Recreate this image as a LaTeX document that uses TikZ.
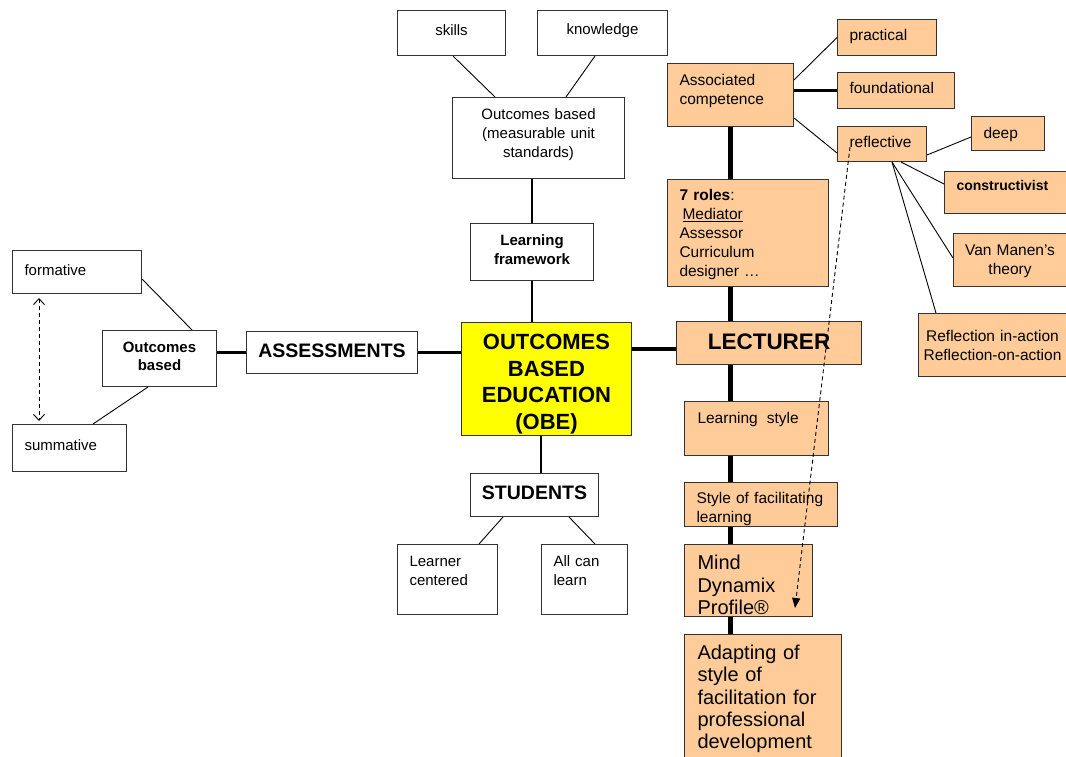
\documentclass[tikz,border=0pt]{standalone}
\usepackage{fontspec}
\setmainfont{Liberation Sans}
\usetikzlibrary{arrows.meta}
\definecolor{peachfill}{HTML}{FFCC99}
\definecolor{obeyellow}{HTML}{FFFF00}
\begin{document}
\begin{tikzpicture}[x=1pt, y=-1pt,
    box/.style={draw=black!80, line width=1pt, anchor=north west, inner xsep=0pt, inner ysep=0pt, align=center, font=\fontsize{15}{19}\selectfont},
    leftbox/.style={box, align=left, inner xsep=12pt},
    peach/.style={leftbox, fill=peachfill, font=\fontsize{15.5}{19}\selectfont},
    thin line/.style={line width=0.9pt},
    mid line/.style={line width=2.2pt},
    spine/.style={line width=4.5pt}]
    \useasboundingbox (0,0) rectangle (1066,756);

    % Centre and learning framework branch
    \node[box, fill=obeyellow, font=\bfseries\fontsize{22}{26.7}\selectfont, text width=170pt, text height=27pt, text depth=86pt] (obe) at (461,322) {OUTCOMES\\BASED\\EDUCATION\\(OBE)};
    \node[box, text width=108pt, text height=25pt, text depth=20pt] (skills) at (397,10) {skills};
    \node[box, text width=130pt, text height=24pt, text depth=21pt] (knowledge) at (537,10) {knowledge};
    \node[box, text width=172pt, text height=22pt, text depth=59pt] (unitstd) at (452,97) {Outcomes based\\(measurable unit\\standards)};
    \node[box, font=\bfseries\fontsize{15}{19}\selectfont, text width=123pt, text height=22pt, text depth=35pt] (framework) at (470,223) {Learning\\framework};

    % Assessment branch
    \node[box, font=\bfseries\fontsize{19.5}{23}\selectfont, text width=171pt, text height=26pt, text depth=16pt] (assess) at (246,331) {ASSESSMENTS};
    \node[box, font=\bfseries\fontsize{15}{18}\selectfont, text width=114pt, text height=22pt, text depth=34pt] (obassess) at (102,330) {Outcomes\\based};
    \node[leftbox, text width=105pt, text height=25pt, text depth=18pt] (formative) at (12,250) {formative};
    \node[leftbox, text width=90pt, text height=26pt, text depth=21pt] (summative) at (12,424) {summative};

    % Student branch
    \node[box, font=\bfseries\fontsize{19.5}{23}\selectfont, text width=128pt, text height=26pt, text depth=17pt] (students) at (470,473) {STUDENTS};
    \node[leftbox, text width=76pt, text height=22pt, text depth=48pt] (learner) at (397,544) {Learner\\centered};
    \node[leftbox, text width=62pt, text height=22pt, text depth=48pt] (allcan) at (541,544) {All can\\learn};

    % Lecturer branch
    \node[peach, text width=102pt, text height=22pt, text depth=41pt] (assoc) at (667,63) {Associated\\competence};
    \node[peach, text width=75pt, text height=21pt, text depth=15pt] (practical) at (837,19) {practical};
    \node[peach, text width=93pt, text height=21pt, text depth=15pt] (foundational) at (837,72) {foundational};
    \node[peach, text width=65pt, text height=21pt, text depth=14pt] (reflective) at (837,126) {reflective};
    \node[peach, text width=49pt, text height=22pt, text depth=12pt] (deep) at (971,116) {deep};
    \node[peach, font=\bfseries\fontsize{14}{17}\selectfont, text width=98pt, text height=19pt, text depth=23pt] (constructivist) at (944,171) {constructivist};
    \node[peach, align=center, inner xsep=0pt, text width=113pt, text height=22pt, text depth=31pt] (vanmanen) at (953,233) {Van Manen’s\\theory};
    \node[peach, align=center, inner xsep=0pt, text width=148pt, text height=28pt, text depth=35pt] (inaction) at (918,313) {Reflection~in-action\\Reflection-on-action};
    \node[peach, text width=137pt, text height=21pt, text depth=86pt] (roles) at (667,179) {\textbf{7 roles}:\\\hspace*{3pt}\underline{Mediator}\\Assessor\\Curriculum\\designer …};
    \node[peach, align=center, inner xsep=0pt, font=\bfseries\fontsize{22.5}{26}\selectfont, text width=185pt, text height=28pt, text depth=15pt] (lecturer) at (676,321) {LECTURER};
    \node[peach, inner xsep=13pt, text width=118pt, text height=22pt, text depth=32pt] (lstyle) at (684,401) {Learning\hspace{9pt}style};
    \node[peach, inner xsep=12pt, text width=129pt, text height=21pt, text depth=23pt] (facilitating) at (684,482) {Style~of~facilitating\\learning};
    \node[peach, inner xsep=13pt, font=\fontsize{20}{22.5}\selectfont, text width=102pt, text height=25pt, text depth=47pt] (mind) at (684,544) {Mind\\Dynamix\\Profile®};
    \node[peach, inner xsep=13pt, font=\fontsize{20}{22.3}\selectfont, text width=131pt, text height=25pt, text depth=101pt] (adapting) at (684,634) {Adapting of\\style of\\facilitation for\\professional\\development};

    % Connect nodes
    \draw[thin line] ([xshift=56pt]skills.south west) -- ([xshift=43pt]unitstd.north west);
    \draw[thin line] ([xshift=58pt]knowledge.south west) -- ([xshift=114pt]unitstd.north west);
    \draw[mid line] (framework.north) -- (framework.north |- unitstd.south);
    \draw[mid line] (framework.south) -- (framework.south |- obe.north);
    \draw[mid line] ([xshift=80pt]obe.south west) -- ([xshift=80pt]obe.south west |- students.north);
    \draw[thin line] ([xshift=33pt]students.south west) -- ([xshift=82pt]learner.north west);
    \draw[thin line] ([xshift=99pt]students.south west) -- ([xshift=54pt]allcan.north west);

    \draw[mid line] (assess.east) -- (assess.east -| obe.west);
    \draw[mid line] (assess.west) -- (assess.west -| obassess.east);
    \draw[thin line] ([yshift=15pt]formative.south east) -- ([xshift=90pt]obassess.north west);
    \draw[thin line] ([xshift=46pt]obassess.south west) -- ([xshift=81pt]summative.north west);
    \draw[thin line, dash pattern=on 4pt off 3pt, {Straight Barb[length=6pt,width=11pt]}-{Straight Barb[length=6pt,width=11pt]}] ([xshift=27pt, yshift=-4pt]formative.south west) -- ([xshift=27pt, yshift=3pt]summative.north west);

    \draw[spine] ([yshift=-6pt]lecturer.west) -- ([yshift=-6pt]lecturer.west -| obe.east);
    \draw[spine] (assoc.south) -- (assoc.south |- roles.north);
    \draw[spine] (roles.south -| assoc.south) -- (lecturer.north -| assoc.south);
    \draw[spine] (lecturer.south -| assoc.south) -- (lstyle.north -| assoc.south);
    \draw[spine] (lstyle.south -| assoc.south) -- (facilitating.north -| assoc.south);
    \draw[spine] (facilitating.south -| assoc.south) -- (mind.north -| assoc.south);
    \draw[spine] (mind.south -| assoc.south) -- (adapting.north -| assoc.south);

    \draw[thin line] ([yshift=-17pt]assoc.north east) -- (practical.west);
    \draw[mid line] (foundational.west) -- (foundational.west -| assoc.east);
    \draw[thin line] ([yshift=9pt]assoc.south east) -- ([yshift=9pt]reflective.south west);
    \draw[thin line] ([yshift=7pt]reflective.south east) -- ([yshift=14pt]deep.south west);
    \draw[thin line] ([xshift=64pt]reflective.south west) -- ([yshift=-13pt]constructivist.north west);
    \draw[thin line] ([xshift=55pt]reflective.south west) -- ([yshift=-25pt]vanmanen.north west);
    \draw[thin line] ([xshift=55pt]reflective.south west) -- ([xshift=18pt]inaction.north west);
    \draw[thin line, dash pattern=on 4pt off 3pt, -{Triangle[length=10pt,width=8pt]}] ([xshift=13pt, yshift=-21pt]reflective.north west) -- ([xshift=111pt, yshift=-64pt]mind.north west);
\end{tikzpicture}
\end{document}
